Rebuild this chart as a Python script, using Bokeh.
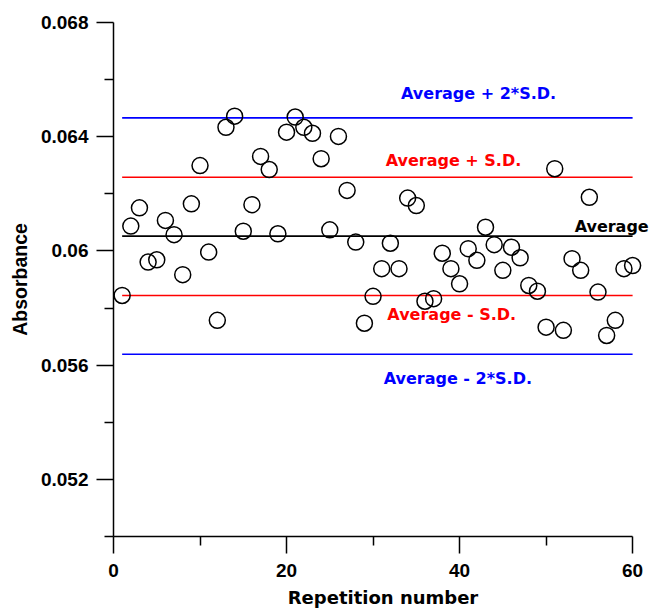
from bokeh.plotting import figure
from bokeh.models import FixedTicker, Label
from bokeh.embed import file_html
from bokeh.resources import INLINE

# ---- data ----
repetition = list(range(1, 61))
absorbance = [
    0.05844, 0.06087, 0.06151, 0.05961, 0.05969, 0.06107, 0.06057, 0.05917, 0.06165, 0.06299,
    0.05996, 0.05757, 0.06433, 0.06472, 0.06069, 0.06162, 0.06331, 0.06285, 0.06060, 0.06416,
    0.06469, 0.06433, 0.06412, 0.06323, 0.06074, 0.06401, 0.06212, 0.06031, 0.05747, 0.05841,
    0.05938, 0.06027, 0.05938, 0.06185, 0.06159, 0.05824, 0.05833, 0.05992, 0.05938, 0.05885,
    0.06008, 0.05967, 0.06083, 0.06022, 0.05932, 0.06013, 0.05976, 0.05879, 0.05859, 0.05733,
    0.06288, 0.05722, 0.05973, 0.05932, 0.06188, 0.05856, 0.05704, 0.05757, 0.05938, 0.05949,
]
line_names = ["Average + 2*S.D.", "Average + S.D.", "Average", "Average - S.D.", "Average - 2*S.D."]
line_values = [0.06466, 0.06258, 0.06052, 0.05844, 0.05638]
line_colors = ["#0000ff", "#ff0000", "#000000", "#ff0000", "#0000ff"]
label_x = [42.2, 39.3, 53.3, 39.1, 39.8]
label_y = [0.06551, 0.06317, 0.06086, 0.05778, 0.05554]
label_align = ["center", "center", "left", "center", "center"]

x_major = [0, 20, 40, 60]
x_minor = [10, 30, 50]
y_major = [0.052, 0.056, 0.060, 0.064, 0.068]
y_minor = [0.050, 0.054, 0.058, 0.062, 0.066]
y_labels = ["0.052", "0.056", "0.06", "0.064", "0.068"]

FONT = "Liberation Sans"
WIDE = "DejaVu Sans"

# the frame runs past x = 60 so the right-hand "Average" label has room;
# the axis itself is bounded to 0..60
p = figure(width=652, height=611, output_backend="svg", toolbar_location=None,
           x_range=(0, 62.3), y_range=(0.050, 0.068),
           min_border_left=113, min_border_right=0, min_border_top=22, min_border_bottom=75)
p.outline_line_color = None
p.grid.visible = False
p.background_fill_color = "white"

# reference lines
x0 = [repetition[0]] * len(line_values)
x1 = [repetition[-1]] * len(line_values)
p.segment(x0=x0, y0=line_values, x1=x1, y1=line_values, line_color=line_colors, line_width=1.6)

# points
p.scatter(repetition, absorbance, marker="circle", size=16, fill_color=None,
          line_color="black", line_width=1.5)

for name, lx, ly, c, al in zip(line_names, label_x, label_y, line_colors, label_align):
    p.add_layout(Label(x=lx, y=ly, text=name, text_color=c, text_font=WIDE,
                       text_font_style="bold", text_font_size="16px",
                       text_align=al, text_baseline="middle"))

for ax in (p.xaxis[0], p.yaxis[0]):
    ax.axis_line_color = "black"
    ax.axis_line_width = 1.5
    ax.major_tick_line_width = 1.5
    ax.minor_tick_line_width = 1.5
    ax.major_tick_out = 17
    ax.major_tick_in = 0
    ax.minor_tick_out = 9
    ax.minor_tick_in = 0
    ax.major_label_text_font = FONT
    ax.major_label_text_font_style = "bold"
    ax.major_label_text_font_size = "19px"
    ax.major_label_text_color = "black"
    ax.axis_label_text_font_style = "bold"
    ax.axis_label_text_color = "black"

p.xaxis.bounds = (x_major[0], x_major[-1])
p.xaxis.ticker = FixedTicker(ticks=x_major, minor_ticks=x_minor)
p.yaxis.ticker = FixedTicker(ticks=y_major, minor_ticks=y_minor)
p.yaxis.major_label_overrides = {v: s for v, s in zip(y_major, y_labels)}
p.xaxis.axis_label = "Repetition number"
p.yaxis.axis_label = "Absorbance"
p.xaxis.axis_label_text_font = WIDE
p.xaxis.axis_label_text_font_size = "18px"
p.yaxis.axis_label_text_font = FONT
p.yaxis.axis_label_text_font_size = "19.5px"
p.xaxis.major_label_standoff = 10
p.xaxis.axis_label_standoff = 7
p.yaxis.major_label_standoff = 8
p.yaxis.axis_label_standoff = 7

open("out.html", "w").write(file_html(p, INLINE))
